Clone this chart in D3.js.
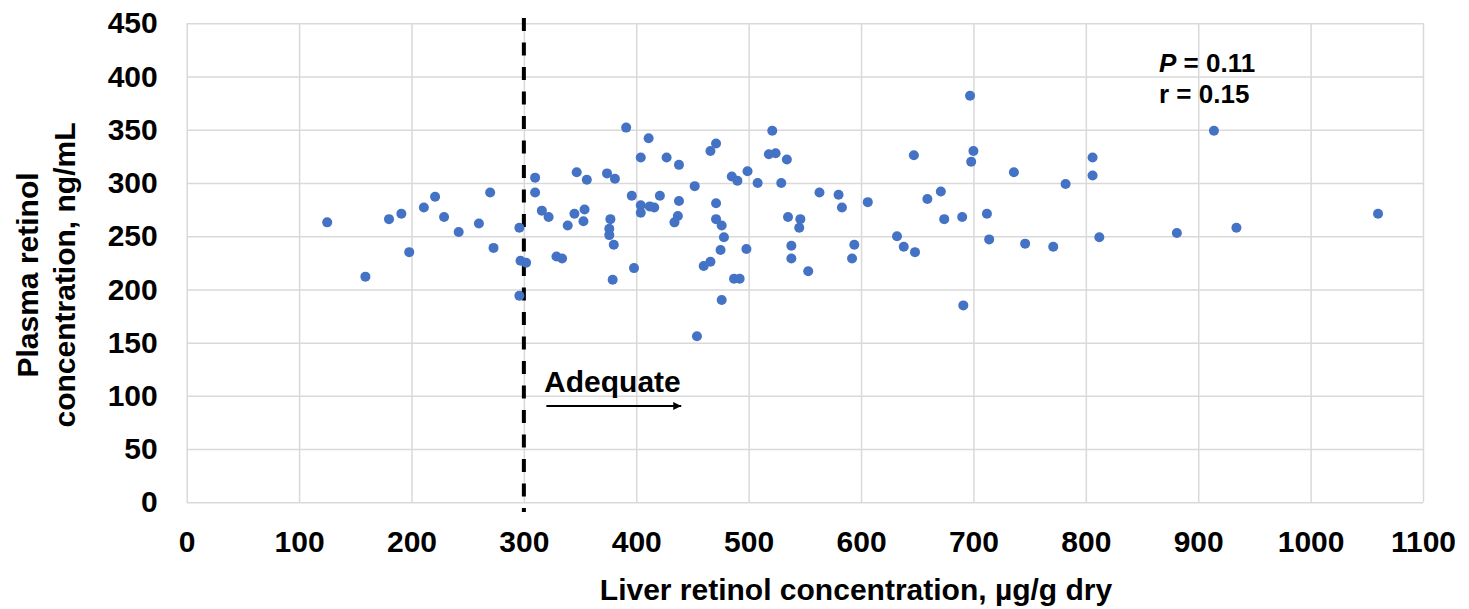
<!DOCTYPE html>
<html lang="en">
	<head>
		<meta charset="utf-8">
		<title>Liver vs plasma retinol</title>
		<script type="text/javascript" src="https://cdn.jsdelivr.net/npm/d3@7"></script>
		<style type="text/css">
			body { margin: 0; background: #fff; }
			text { font-family: "Liberation Sans", Arial, sans-serif; font-weight: bold; fill: #000; }
		</style>
	</head>
	<body>
		<script type="text/javascript">

			//Data
			var liver = [125,159,180,191,198,211,221,229,242,260,270,273,296,296,297,302,310,310,316,322,
				329,334,339,345,347,353,354,356,374,376,376,377,380,379,381,391,396,398,404,404,
				404,411,412,416,421,427,434,437,438,438,452,454,460,466,466,471,471,471,475,476,
				476,478,485,487,490,492,498,499,508,518,521,524,529,534,535,538,538,545,546,553,
				563,580,583,592,594,606,632,638,647,648,659,671,674,690,691,697,698,700,712,714,
				736,746,771,782,806,806,812,881,914,934,1060];
			var plasma = [263,212,266,271,235,277,287,268,254,262,291,239,258,194,227,225,305,291,274,268,
				231,229,260,271,310,264,275,303,309,257,251,266,242,209,304,352,288,220,324,279,
				272,342,278,277,288,324,263,269,283,317,297,156,222,226,330,337,281,266,237,260,
				190,249,306,210,302,210,238,311,300,327,349,328,300,322,268,241,229,258,266,217,
				291,289,277,229,242,282,250,240,326,235,285,292,266,268,185,382,320,330,271,247,
				310,243,240,299,324,307,249,253,349,258,271];
			var xTicks = [0,100,200,300,400,500,600,700,800,900,1000,1100];
			var yTicks = [0,50,100,150,200,250,300,350,400,450];
			var threshold = 300;

			//Width, height and plot edges
			var w = 1469;
			var h = 609;
			var plotLeft = 186.7, plotRight = 1423, plotTop = 23.3, plotBottom = 502.3;

			var x = d3.scaleLinear().domain([0, 1100]).range([plotLeft, plotRight]);
			var y = d3.scaleLinear().domain([0, 450]).range([plotBottom, plotTop]);

			var svg = d3.select("body")
						.append("svg")
						.attr("width", w)
						.attr("height", h);

			svg.append("defs").append("marker")
				.attr("id", "arrow")
				.attr("viewBox", "0 0 10 10")
				.attr("refX", 10)
				.attr("refY", 5)
				.attr("markerWidth", 5)
				.attr("markerHeight", 4)
				.attr("markerUnits", "strokeWidth")
				.attr("orient", "auto")
				.append("path")
				.attr("d", "M0,0L10,5L0,10Z")
				.attr("fill", "#000");

			//Gridlines
			svg.append("g")
				.attr("transform", "translate(0," + plotBottom + ")")
				.call(d3.axisBottom(x).tickValues(xTicks).tickSize(-(plotBottom - plotTop)).tickFormat(""))
				.call(function(g) {
					g.select(".domain").remove();
					g.selectAll("line").attr("stroke", "#d9d9d9").attr("stroke-width", 1.5);
				});
			svg.append("g")
				.attr("transform", "translate(" + plotLeft + ",0)")
				.call(d3.axisLeft(y).tickValues(yTicks).tickSize(-(plotRight - plotLeft)).tickFormat(""))
				.call(function(g) {
					g.select(".domain").remove();
					g.selectAll("line").attr("stroke", "#d9d9d9").attr("stroke-width", 1.5);
				});

			//Tick labels
			svg.append("g")
				.attr("transform", "translate(0," + plotBottom + ")")
				.call(d3.axisBottom(x).tickValues(xTicks).tickSize(0).tickPadding(28).tickFormat(d3.format("d")))
				.call(function(g) {
					g.select(".domain").remove();
					g.selectAll("text").attr("font-size", "30px").attr("font-family", null);
				});
			svg.append("g")
				.attr("transform", "translate(" + plotLeft + ",0)")
				.call(d3.axisLeft(y).tickValues(yTicks).tickSize(0).tickPadding(29).tickFormat(d3.format("d")))
				.call(function(g) {
					g.select(".domain").remove();
					g.selectAll("text").attr("font-size", "30px").attr("font-family", null);
				});

			//Threshold line
			svg.append("line")
				.attr("x1", x(threshold))
				.attr("x2", x(threshold))
				.attr("y1", 18)
				.attr("y2", 512)
				.attr("stroke", "#000")
				.attr("stroke-width", 4)
				.attr("stroke-dasharray", "13,11.5");

			//Points
			svg.selectAll("circle")
				.data(liver)
				.enter()
				.append("circle")
				.attr("cx", function(d) { return x(d); })
				.attr("cy", function(d, i) { return y(plasma[i]); })
				.attr("r", 5)
				.attr("fill", "#4472C4");

			//Adequate arrow
			svg.append("line")
				.attr("x1", x(320))
				.attr("x2", x(440))
				.attr("y1", y(90.5))
				.attr("y2", y(90.5))
				.attr("stroke", "#000")
				.attr("stroke-width", 2)
				.attr("marker-end", "url(#arrow)");
			svg.append("text")
				.attr("x", x(318))
				.attr("y", y(104))
				.attr("font-size", "30px")
				.text("Adequate");

			//Stats
			var stats = svg.append("text")
				.attr("x", 1159)
				.attr("y", 72)
				.attr("font-size", "26px");
			stats.append("tspan").attr("font-style", "italic").text("P");
			stats.append("tspan").text(" = 0.11");
			svg.append("text")
				.attr("x", 1159)
				.attr("y", 103)
				.attr("font-size", "26px")
				.text("r = 0.15");

			//Axis titles
			svg.append("text")
				.attr("x", 856)
				.attr("y", 600)
				.attr("text-anchor", "middle")
				.attr("font-size", "30px")
				.text("Liver retinol concentration, µg/g dry");

			var yTitle = svg.append("text")
				.attr("transform", "translate(0,275) rotate(-90)")
				.attr("text-anchor", "middle")
				.attr("font-size", "30px");
			yTitle.append("tspan").attr("x", 0).attr("y", 38).text("Plasma retinol");
			yTitle.append("tspan").attr("x", 0).attr("y", 75).text("concentration, ng/mL");

		</script>
	</body>
</html>
